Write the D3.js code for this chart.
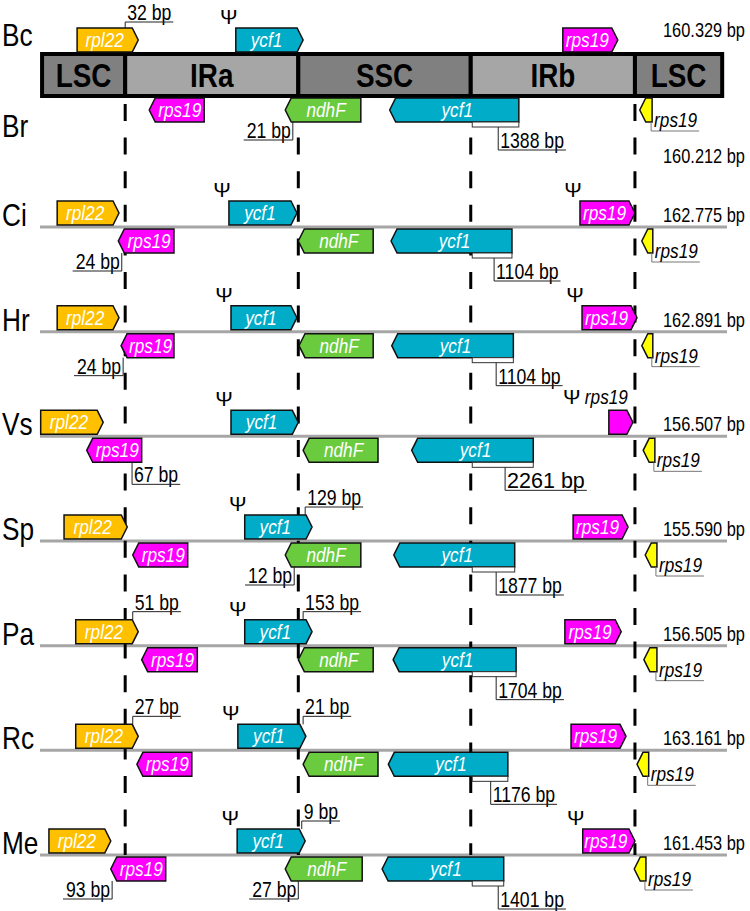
<!DOCTYPE html>
<head>
  <meta charset="utf-8">
  <script src="https://d3js.org/d3.v7.min.js"></script>
  <style>
    body { margin: 0; background: #fff; }
    text { font-family: "Liberation Sans", Arial, sans-serif; fill: #000; }
    .species { font-size: 32px; }
    .size { font-size: 20px; }
    .region { font-size: 34px; font-weight: bold; }
    .gene-label { font-size: 21px; font-style: italic; fill: #fff; }
    .psi { font-size: 21px; }
    .bp { font-size: 21.5px; }
    .outside { font-size: 21px; font-style: italic; }
    .row-line { stroke: #a6a6a6; stroke-width: 3px; }
    .junction { stroke: #000; stroke-width: 3px; stroke-dasharray: 17 16.6; }
    .gene { stroke: #111; stroke-width: 1.5px; }
    .leader { fill: none; stroke: #222; stroke-width: 1px; }
    .leader-light { fill: none; stroke: #777; stroke-width: 1px; }
    .bracket { fill: #fff; stroke: #333; stroke-width: 1px; }
  </style>
</head>

<body>
  <div id="vis"></div>
  <script>

    // species (Bc and Br share the quadripartite bar at the top)
    var species = ["Bc", "Br", "Ci", "Hr", "Vs", "Sp", "Pa", "Rc", "Me"];
    var genomeSizes = ["160.329 bp", "160.212 bp", "162.775 bp", "162.891 bp", "156.507 bp",
      "155.590 bp", "156.505 bp", "163.161 bp", "161.453 bp"];
    var regions = ["LSC", "IRa", "SSC", "IRb", "LSC"];
    var regionFill = ["#808080", "#a6a6a6", "#808080", "#a6a6a6", "#808080"];

    // schematic positions, % of the map width
    var junctions = [12.4, 37.6, 62.7, 86.6];
    var mapEnds = [0.3, 99.3];

    var geneColors = { rpl22: "#ffc000", ycf1: "#00acc8", rps19: "#ff00ff", ndhF: "#6acb3f", rps19lsc: "#ffff00" };

    // [species, start, end, pseudogene]
    var rpl22 = [["Bc", 5.4, 14.3], ["Ci", 2.5, 11.5], ["Hr", 2.5, 11.5], ["Vs", 0.1, 9.2],
      ["Sp", 3.5, 12.7], ["Pa", 5.2, 14.3], ["Rc", 5.2, 14.3], ["Me", 1.3, 10.3]];
    var ycf1IRa = [["Bc", 28.5, 38.3, true], ["Ci", 27.5, 37.4, true], ["Hr", 27.8, 37.4, true],
      ["Vs", 27.8, 37.6, true], ["Sp", 29.8, 39.6, true], ["Pa", 29.8, 39.6, true],
      ["Rc", 28.8, 38.7, true], ["Me", 28.7, 38.6, true]];
    var rps19IRb = [["Bc", 76.1, 84.1], ["Ci", 78.6, 86.6, true], ["Hr", 78.9, 86.9, true],
      ["Vs", 82.8, 86.3, true], ["Sp", 77.6, 85.6], ["Pa", 76.4, 84.6], ["Rc", 77.3, 85.3],
      ["Me", 79.0, 86.6, true]];
    var rps19IRa = [["Br", 15.9, 23.9], ["Ci", 11.4, 19.5], ["Hr", 11.8, 19.5], ["Vs", 6.8, 14.8],
      ["Sp", 13.5, 21.5], ["Pa", 14.8, 22.9], ["Rc", 14.1, 22.1], ["Me", 10.3, 18.3]];
    var ndhF = [["Br", 35.7, 46.7], ["Ci", 37.6, 48.5], ["Hr", 37.7, 48.5], ["Vs", 38.3, 49.2],
      ["Sp", 35.7, 46.7], ["Pa", 37.6, 48.5], ["Rc", 38.3, 49.2], ["Me", 35.7, 46.9]];
    var ycf1SSC = [["Br", 50.9, 69.7], ["Ci", 51.1, 68.7], ["Hr", 51.2, 68.9], ["Vs", 54.1, 71.8],
      ["Sp", 51.5, 69.1], ["Pa", 51.4, 69.3], ["Rc", 50.7, 68.1], ["Me", 49.8, 67.5]];
    var rps19LSC = [["Br", 87.3, 89.1], ["Ci", 87.6, 89.2], ["Hr", 87.6, 89.2], ["Vs", 87.8, 89.5],
      ["Sp", 88.1, 89.8], ["Pa", 87.9, 89.8], ["Rc", 86.9, 88.6], ["Me", 86.5, 88.2]];

    // [species, label, position, kind]  ur = up-right, dl = down-left, dr = down-right, br = ycf1 bracket
    var distances = [
      ["Bc", "32 bp", 12.4, "ur"], ["Br", "21 bp", 36.8, "dl"], ["Br", "1388 bp", 66.7, "br"],
      ["Ci", "24 bp", 11.9, "dl"], ["Ci", "1104 bp", 66.1, "br"],
      ["Hr", "24 bp", 12.1, "dl"], ["Hr", "1104 bp", 66.4, "br"],
      ["Vs", "67 bp", 13.4, "dr"], ["Vs", "2261 bp", 67.7, "br"],
      ["Sp", "129 bp", 38.6, "ur"], ["Sp", "12 bp", 37.0, "dl"], ["Sp", "1877 bp", 66.4, "br"],
      ["Pa", "51 bp", 13.5, "ur"], ["Pa", "153 bp", 38.3, "ur"], ["Pa", "1704 bp", 66.4, "br"],
      ["Rc", "27 bp", 13.5, "ur"], ["Rc", "21 bp", 38.3, "ur"], ["Rc", "1176 bp", 65.6, "br"],
      ["Me", "9 bp", 38.1, "ur"], ["Me", "93 bp", 10.5, "dl"], ["Me", "27 bp", 37.6, "dl"],
      ["Me", "1401 bp", 66.7, "br"]
    ];
    var wideLabels = ["2261 bp"];

    var width = 750, height = 911;
    var barTop = 52, barBottom = 98;
    var geneH = 24, gap = 2, tip = 6;
    var condense = 0.82;   // no narrow face installed, squeeze the regular one

    var svg = d3.select("#vis").append("svg")
      .attr("width", width)
      .attr("height", height);

    var x = d3.scaleLinear().domain([0, 100]).range([40, 727]);
    var rowY = d3.scalePoint().domain(species.slice(2)).range([227, 855]);

    // move x/y into a transform and squeeze horizontally
    function narrow(sel) {
      sel.each(function () {
        var t = d3.select(this);
        var tx = +t.attr("x") || 0, ty = +t.attr("y") || 0;
        t.attr("x", 0).attr("y", 0)
          .attr("transform", "translate(" + tx + "," + ty + ") scale(" + condense + ",1)");
      });
      return sel;
    }
    function lineY(sp) {
      if (sp === "Bc") return barTop;
      if (sp === "Br") return barBottom;
      return rowY(sp);
    }
    function geneTop(sp, side) {
      var g = (sp === "Bc" || sp === "Br") ? 0 : gap;
      return side === "up" ? lineY(sp) - g - geneH : lineY(sp) + g;
    }
    function genePath(x0, x1, strand, top) {
      var b = top + geneH, m = top + geneH / 2;
      if (strand === "+") return "M" + x0 + "," + top + "H" + (x1 - tip) + "L" + x1 + "," + m + "L" + (x1 - tip) + "," + b + "H" + x0 + "Z";
      return "M" + (x0 + tip) + "," + top + "H" + x1 + "V" + b + "H" + (x0 + tip) + "L" + x0 + "," + m + "Z";
    }

    ////////// row lines and junctions //////////

    svg.append("g").selectAll("line")
      .data(species.slice(2))
      .enter().append("line")
      .attr("class", "row-line")
      .attr("x1", x(0)).attr("x2", x(100))
      .attr("y1", function (d) { return rowY(d); })
      .attr("y2", function (d) { return rowY(d); });

    svg.append("g").selectAll("line")
      .data(junctions)
      .enter().append("line")
      .attr("class", "junction")
      .attr("x1", function (d) { return x(d); })
      .attr("x2", function (d) { return x(d); })
      .attr("y1", barBottom + 6)
      .attr("y2", rowY("Me"));

    ////////// quadripartite bar //////////

    var bounds = [mapEnds[0]].concat(junctions, [mapEnds[1]]);
    var bar = svg.append("g").attr("class", "bar");
    bar.selectAll("rect")
      .data(regions)
      .enter().append("rect")
      .attr("x", function (d, i) { return x(bounds[i]); })
      .attr("width", function (d, i) { return x(bounds[i + 1]) - x(bounds[i]); })
      .attr("y", barTop + 2)
      .attr("height", barBottom - barTop - 4)
      .attr("fill", function (d, i) { return regionFill[i]; })
      .attr("stroke", "#000")
      .attr("stroke-width", 4);
    bar.selectAll("text")
      .data(regions)
      .enter().append("text")
      .attr("class", "region")
      .attr("x", function (d, i) { return (x(bounds[i]) + x(bounds[i + 1])) / 2; })
      .attr("y", barTop + 35)
      .attr("text-anchor", "middle")
      .text(function (d) { return d; })
      .call(narrow);

    ////////// species labels and genome sizes //////////

    svg.append("g").selectAll("text")
      .data(species)
      .enter().append("text")
      .attr("class", "species")
      .attr("x", 2)
      .attr("y", function (d) {
        if (d === "Bc") return barTop - 6;
        if (d === "Br") return barBottom + 39;
        return rowY(d) - 1;
      })
      .text(function (d) { return d; })
      .call(narrow);

    svg.append("g").selectAll("text")
      .data(genomeSizes)
      .enter().append("text")
      .attr("class", "size")
      .attr("x", 663)
      .attr("y", function (d, i) {
        var sp = species[i];
        if (sp === "Bc") return barTop - 15;
        if (sp === "Br") return barBottom + 65;
        return rowY(sp) - 5;
      })
      .text(function (d) { return d; })
      .call(narrow);

    ////////// genes //////////

    var genes = [];
    function addGenes(list, name, side, strand, color) {
      list.forEach(function (d) {
        genes.push({ sp: d[0], start: d[1], end: d[2], psi: !!d[3], name: name, side: side, strand: strand, color: color });
      });
    }
    addGenes(rpl22, "rpl22", "up", "+", geneColors.rpl22);
    addGenes(ycf1IRa, "ycf1", "up", "+", geneColors.ycf1);
    addGenes(rps19IRb, "rps19", "up", "+", geneColors.rps19);
    addGenes(rps19IRa, "rps19", "down", "-", geneColors.rps19);
    addGenes(ndhF, "ndhF", "down", "-", geneColors.ndhF);
    addGenes(ycf1SSC, "ycf1", "down", "-", geneColors.ycf1);
    addGenes(rps19LSC, "rps19", "down", "-", geneColors.rps19lsc);

    var geneG = svg.append("g").attr("class", "genes");

    genes.forEach(function (d) {
      var x0 = x(d.start), x1 = x(d.end), top = geneTop(d.sp, d.side);
      geneG.append("path")
        .attr("class", "gene")
        .attr("d", genePath(x0, x1, d.strand, top))
        .attr("fill", d.color);

      var w = x1 - x0;
      if (d.color === geneColors.rps19lsc) {
        // small LSC rps19, label sits outside
        var vx = x1 - 1, y0 = top + geneH, y1 = y0 + 9;
        geneG.append("path").attr("class", "leader-light")
          .attr("d", "M" + vx + "," + y0 + "V" + y1 + "H" + (vx + 48));
        geneG.append("text").attr("class", "outside")
          .attr("x", vx + 3).attr("y", y1 - 4)
          .text(d.name)
          .call(narrow);
      } else if (w < 30) {
        geneG.append("text").attr("class", "outside")
          .attr("x", x1 - 5).attr("y", top - 6)
          .attr("text-anchor", "end")
          .text(d.name)
          .call(narrow);
        if (d.psi) {
          geneG.append("text").attr("class", "psi")
            .attr("x", x1 - 61).attr("y", top - 6)
            .attr("text-anchor", "middle")
            .text("\u03a8");
        }
      } else {
        var cx = d.strand === "+" ? (x0 + x1 - tip) / 2 : (x0 + tip + x1) / 2;
        geneG.append("text").attr("class", "gene-label")
          .attr("x", cx).attr("y", top + geneH / 2 + 7)
          .attr("text-anchor", "middle")
          .text(d.name)
          .call(narrow);
        if (d.psi) {
          geneG.append("text").attr("class", "psi")
            .attr("x", x0 - 7).attr("y", top - 4)
            .attr("text-anchor", "middle")
            .text("\u03a8");
        }
      }
    });

    ////////// distance annotations //////////

    var annoG = svg.append("g").attr("class", "annotations");

    distances.forEach(function (a) {
      var sp = a[0], label = a[1], ax = x(a[2]), kind = a[3];
      var y0, y1;
      if (kind === "ur") {
        y0 = geneTop(sp, "up");
        y1 = Math.max(y0 - 8, 22);
      } else if (kind === "br") {
        var g = ycf1SSC.filter(function (d) { return d[0] === sp; })[0];
        var rb = geneTop(sp, "down") + geneH;
        annoG.append("rect").attr("class", "bracket")
          .attr("x", x(junctions[2]) + 1.5)
          .attr("width", x(g[2]) - x(junctions[2]) - 1.5)
          .attr("y", rb).attr("height", 5);
        y0 = rb + 5;
        y1 = y0 + 23;
      } else {
        y0 = geneTop(sp, "down") + geneH;
        y1 = y0 + (kind === "dl" ? 18 : 22);
      }
      var wide = wideLabels.indexOf(label) >= 0;
      var t = annoG.append("text")
        .attr("class", "bp")
        .attr("y", y1 - 2)
        .text(label);
      var tw = t.node().getComputedTextLength() * (wide ? 1 : condense), hx;
      if (kind === "dl") {
        t.attr("x", ax - 2).attr("text-anchor", "end");
        hx = ax - tw - 5;
      } else {
        t.attr("x", ax + 2);
        hx = ax + tw + 4;
      }
      if (!wide) t.call(narrow);
      annoG.append("path").attr("class", "leader")
        .attr("d", "M" + ax + "," + y0 + "V" + y1 + "H" + hx);
    });

  </script>
</body>
